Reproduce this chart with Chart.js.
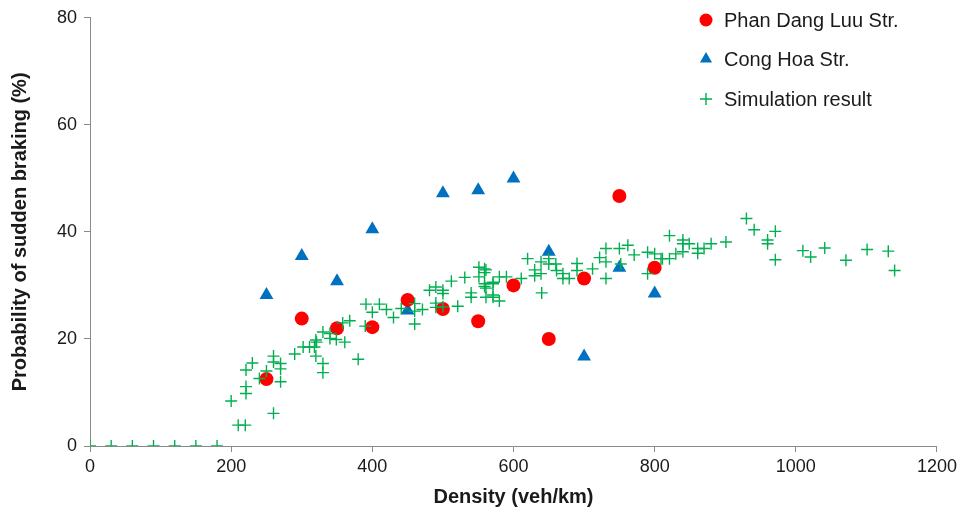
<!DOCTYPE html>
<html>
<head>
<meta charset="utf-8">
<script src="https://cdn.jsdelivr.net/npm/chart.js@4.4.1/dist/chart.umd.min.js"></script>
<style>
    html, body { margin: 0; padding: 0; background: #ffffff; }
    #wrap { width: 961px; height: 511px; }
</style>
</head>
<body>
<div id="wrap"><canvas id="chart" width="961" height="511"></canvas></div>
<script>
// Measured data (density in veh/km, probability in %)
const phanDensity = [250, 300, 350, 400, 450, 500, 550, 600, 650, 700, 750, 800];
const phanProb = [12.5, 23.8, 22.0, 22.2, 27.3, 25.6, 23.3, 30.0, 20.0, 31.3, 46.7, 33.3];

const congDensity = [250, 300, 350, 400, 450, 500, 550, 600, 650, 700, 750, 800];
const congProb = [28.2, 35.5, 30.8, 40.5, 25.3, 47.2, 47.8, 50.0, 36.3, 16.7, 33.3, 28.5];

// Simulation result points
const simDensity = [
    0, 30, 60, 90, 120, 150, 180,
    200, 210, 220, 221, 221, 221, 230, 240, 250, 260, 260, 260, 270, 270, 270,
    290, 302, 311, 318, 320, 320, 321, 330, 330, 330, 340, 340, 349, 358, 361, 368, 380, 390, 391,
    400, 410, 420, 430, 441, 460, 460, 460, 471, 481, 490, 490, 490, 500, 500, 500,
    512, 521, 531, 540, 540, 551, 551, 559, 559, 559, 559, 561, 561, 561,
    571, 571, 571, 571, 580, 580, 590, 611, 620, 630, 630, 639, 639, 640,
    650, 650, 660, 661, 670, 670, 679, 690, 690, 712, 722, 731, 731, 731,
    750, 752, 762, 771, 790, 790, 800, 809, 811, 821, 821, 830,
    840, 840, 840, 849, 861, 861, 870, 880, 901, 930, 941, 960, 960, 971, 971,
    1010, 1021, 1041, 1071, 1101, 1131, 1140
];
const simProb = [
    0, 0, 0, 0, 0, 0, 0,
    8.4, 3.9, 3.9, 9.8, 11.1, 14.2, 15.5, 12.6, 14.0, 6.1, 15.7, 16.8, 12.0, 14.4, 15.4,
    17.2, 18.5, 18.5, 18.5, 16.8, 19.8, 19.4, 13.7, 15.4, 21.3, 20.1, 21.0, 19.9, 23.0, 19.4, 23.4, 16.2, 22.4, 26.5,
    25.0, 26.5, 25.5, 24.0, 25.7, 26.6, 25.2, 22.8, 25.5, 29.1, 29.7, 26.7, 25.9, 29.1, 28.5, 26.0,
    30.8, 26.1, 31.5, 28.6, 27.8, 33.4, 31.6, 33.1, 32.4, 30.3, 29.8, 32.9, 29.5, 27.8,
    30.3, 30.6, 28.2, 27.8, 31.6, 27.1, 31.6, 31.3, 35.0, 32.9, 31.8, 34.4, 32.2, 28.6,
    35.0, 34.0, 34.0, 32.8, 32.2, 31.3, 31.3, 34.1, 32.8, 33.1, 35.2, 36.9, 34.4, 31.3,
    36.9, 34.0, 37.5, 35.7, 36.2, 32.2, 35.9, 35.0, 35.0, 39.3, 35.0, 35.9,
    38.5, 37.8, 36.3, 37.8, 36.9, 36.0, 36.9, 37.8, 38.1, 42.5, 40.4, 38.5, 37.8, 40.1, 34.8,
    36.5, 35.3, 37.0, 34.7, 36.7, 36.4, 32.8
];

const xTicks = [0, 200, 400, 600, 800, 1000, 1200];
const yTicks = [0, 20, 40, 60, 80];

const toPoints = (xs, ys) => xs.map((x, i) => ({ x: x, y: ys[i] }));

const axisGray = '#8a8a8a';
const textColor = '#1a1a1a';
const fontFamily = '"Liberation Sans", Arial, Helvetica, sans-serif';

// Legend drawn inside the plot, top right
const insideLegend = {
    id: 'insideLegend',
    afterDraw: function (chart) {
        const ctx = chart.ctx;
        const markerX = 706;
        const textX = 724;
        const rows = [20, 59, 99];
        ctx.save();
        ctx.font = '20px ' + fontFamily;
        ctx.textBaseline = 'middle';
        ctx.textAlign = 'left';
        chart.data.datasets.forEach(function (ds) {
            const y = rows[ds.legendRow];
            ctx.fillStyle = ds.backgroundColor;
            ctx.strokeStyle = ds.borderColor;
            ctx.lineWidth = ds.borderWidth;
            Chart.helpers.drawPoint(ctx, {
                pointStyle: ds.pointStyle,
                radius: ds.legendRadius,
                borderWidth: ds.borderWidth,
                rotation: 0
            }, markerX, y);
            ctx.fillStyle = textColor;
            ctx.fillText(ds.label, textX, y + 1);
        });
        ctx.restore();
    }
};

const ctx = document.getElementById('chart').getContext('2d');

new Chart(ctx, {
    type: 'scatter',
    data: {
        datasets: [
            {
                label: 'Simulation result',
                data: toPoints(simDensity, simProb),
                pointStyle: 'cross',
                pointRadius: 6,
                borderColor: '#00b050',
                backgroundColor: '#00b050',
                borderWidth: 1.4,
                legendRow: 2,
                legendRadius: 6,
                order: 0
            },
            {
                label: 'Phan Dang Luu Str.',
                data: toPoints(phanDensity, phanProb),
                pointStyle: 'circle',
                pointRadius: 7,
                borderColor: '#ff0000',
                backgroundColor: '#ff0000',
                borderWidth: 0,
                legendRow: 0,
                legendRadius: 6.5,
                order: 1
            },
            {
                label: 'Cong Hoa Str.',
                data: toPoints(congDensity, congProb),
                pointStyle: 'triangle',
                pointRadius: 8,
                borderColor: '#0070c0',
                backgroundColor: '#0070c0',
                borderWidth: 0,
                legendRow: 1,
                legendRadius: 7,
                order: 2
            }
        ]
    },
    options: {
        responsive: false,
        animation: false,
        events: [],
        layout: {
            padding: { top: 17, right: 21, bottom: 0, left: 0 }
        },
        plugins: {
            legend: { display: false },
            tooltip: { enabled: false }
        },
        scales: {
            x: {
                type: 'linear',
                min: 0,
                max: 1200,
                afterFit: function (scale) { scale.height = 65; },
                afterBuildTicks: function (scale) {
                    scale.ticks = xTicks.map(v => ({ value: v }));
                },
                border: { display: true, color: axisGray, width: 1 },
                grid: {
                    drawOnChartArea: false,
                    drawTicks: true,
                    tickLength: 6,
                    color: axisGray
                },
                ticks: {
                    color: textColor,
                    padding: 4,
                    maxRotation: 0,
                    callback: v => String(v),
                    font: { family: fontFamily, size: 18 }
                },
                title: {
                    display: true,
                    text: 'Density (veh/km)',
                    color: textColor,
                    padding: { top: 0, bottom: 2 },
                    font: { family: fontFamily, size: 20, weight: 'bold' }
                }
            },
            y: {
                type: 'linear',
                min: 0,
                max: 80,
                afterFit: function (scale) { scale.width = 90; },
                afterBuildTicks: function (scale) {
                    scale.ticks = yTicks.map(v => ({ value: v }));
                },
                border: { display: true, color: axisGray, width: 1 },
                grid: {
                    drawOnChartArea: false,
                    drawTicks: true,
                    tickLength: 6,
                    color: axisGray
                },
                ticks: {
                    color: textColor,
                    padding: 7,
                    callback: v => String(v),
                    font: { family: fontFamily, size: 18 }
                },
                title: {
                    display: true,
                    text: 'Probability of sudden braking (%)',
                    color: textColor,
                    padding: { top: 8, bottom: 0 },
                    font: { family: fontFamily, size: 20, weight: 'bold' }
                }
            }
        }
    },
    plugins: [insideLegend]
});
</script>
</body>
</html>
